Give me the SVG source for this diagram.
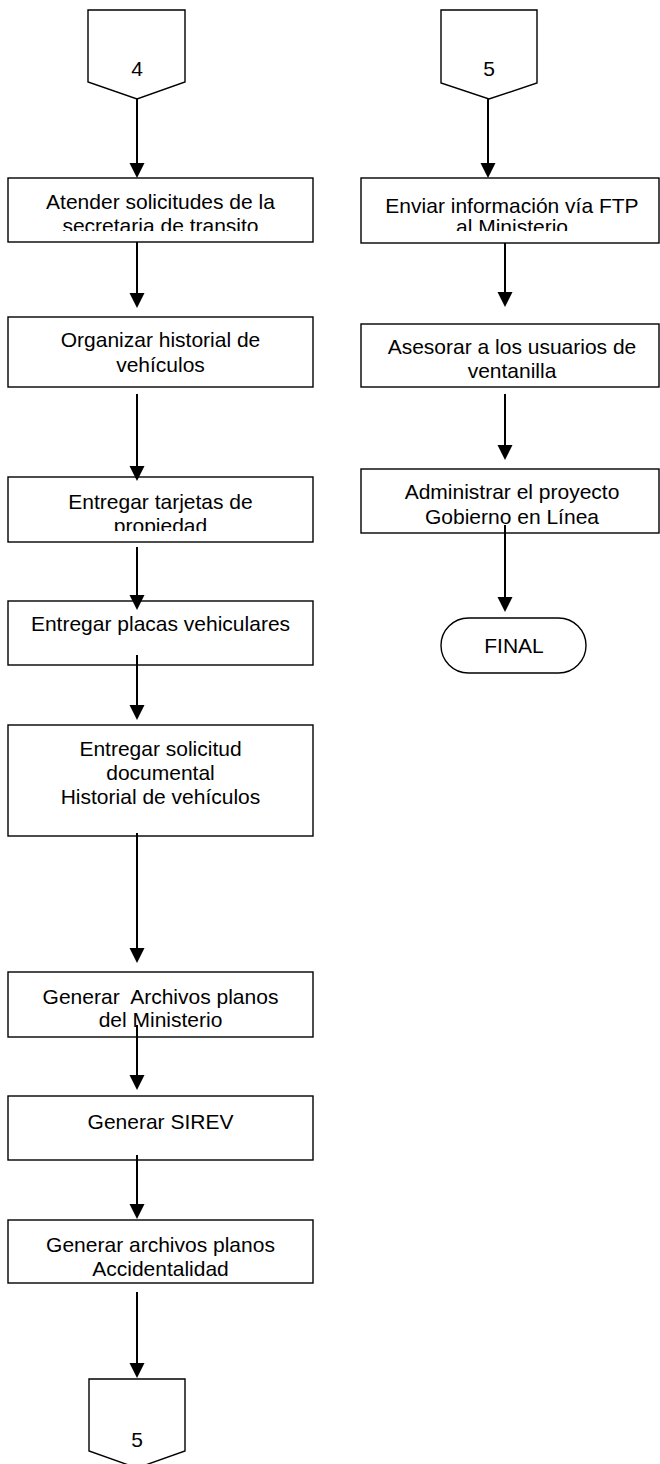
<svg xmlns="http://www.w3.org/2000/svg" width="660" height="1464" viewBox="0 0 660 1464">
<style>
.box{fill:#fff;stroke:#000;stroke-width:1.4}
.t{font-family:"Liberation Sans",Arial,sans-serif;font-size:21px;fill:#000;text-anchor:middle}
.c{stroke:#000;stroke-width:2;fill:none}
</style>
<defs>
<marker id="ah" markerUnits="userSpaceOnUse" markerWidth="16" markerHeight="16" refX="12" refY="7.5" orient="auto">
<path d="M0,0 L15,7.5 L0,15 z" fill="#000"/>
</marker>
<clipPath id="cl1"><rect x="8" y="178" width="305" height="53"/></clipPath>
<clipPath id="cl3"><rect x="8" y="477" width="305" height="54"/></clipPath>
<clipPath id="clr1"><rect x="361" y="178" width="298" height="53"/></clipPath>
</defs>
<rect width="660" height="1464" fill="#fff"/>
<g id="nodes">
<g id="conn4"><polygon class="box" points="88,10 185,10 185,82 137,99 88,82"/><text class="t" x="137" y="76">4</text></g>
<g id="n1"><rect class="box" x="8" y="178" width="305" height="64"/><g clip-path="url(#cl1)"><text class="t" x="160.5" y="209">Atender solicitudes de la</text><text class="t" x="160.5" y="233">secretaria de transito</text></g></g>
<g id="n2"><rect class="box" x="8" y="317" width="305" height="70"/><text class="t" x="160.5" y="347">Organizar historial de</text><text class="t" x="160.5" y="372">vehículos</text></g>
<g id="n3"><rect class="box" x="8" y="477" width="305" height="65"/><g clip-path="url(#cl3)"><text class="t" x="160.5" y="509">Entregar tarjetas de</text><text class="t" x="160.5" y="533">propiedad</text></g></g>
<g id="n4"><rect class="box" x="8" y="601" width="305" height="64"/><text class="t" x="160.5" y="631">Entregar placas vehiculares</text></g>
<g id="n5"><rect class="box" x="8" y="725" width="305" height="111"/><text class="t" x="160.5" y="756">Entregar solicitud</text><text class="t" x="160.5" y="780">documental</text><text class="t" x="160.5" y="804">Historial de vehículos</text></g>
<g id="n6"><rect class="box" x="8" y="972" width="305" height="65"/><text class="t" x="160.5" y="1004" xml:space="preserve">Generar  Archivos planos</text><text class="t" x="160.5" y="1027">del Ministerio</text></g>
<g id="n7"><rect class="box" x="8" y="1096" width="305" height="64"/><text class="t" x="160.5" y="1129">Generar SIREV</text></g>
<g id="n8"><rect class="box" x="8" y="1220" width="305" height="63"/><text class="t" x="160.5" y="1252">Generar archivos planos</text><text class="t" x="160.5" y="1276">Accidentalidad</text></g>
<g id="conn5b"><polygon class="box" points="89,1379 185,1379 185,1451 137,1468 89,1451"/><text class="t" x="137" y="1447">5</text></g>
<g id="conn5"><polygon class="box" points="441,10 537,10 537,83 489,99 441,83"/><text class="t" x="489" y="76">5</text></g>
<g id="r1"><rect class="box" x="361" y="178" width="298" height="65"/><g clip-path="url(#clr1)"><text class="t" x="512" y="213">Enviar información vía FTP</text><text class="t" x="512" y="234">al Ministerio</text></g></g>
<g id="r2"><rect class="box" x="361" y="324" width="298" height="63"/><text class="t" x="512" y="354">Asesorar a los usuarios de</text><text class="t" x="512" y="378">ventanilla</text></g>
<g id="r3"><rect class="box" x="361" y="469" width="298" height="64"/><text class="t" x="512" y="499">Administrar el proyecto</text><text class="t" x="512" y="524">Gobierno en Línea</text></g>
<g id="final"><rect class="box" x="441" y="618" width="145" height="55" rx="27.5"/><text class="t" x="514" y="653">FINAL</text></g>
</g>
<g id="connectors">
<line class="c" x1="137" y1="99" x2="137" y2="175" marker-end="url(#ah)"/>
<line class="c" x1="137" y1="242" x2="137" y2="305" marker-end="url(#ah)"/>
<line class="c" x1="137" y1="394" x2="137" y2="478" marker-end="url(#ah)"/>
<line class="c" x1="137" y1="547" x2="137" y2="607" marker-end="url(#ah)"/>
<line class="c" x1="137" y1="655" x2="137" y2="717" marker-end="url(#ah)"/>
<line class="c" x1="137" y1="833" x2="137" y2="960" marker-end="url(#ah)"/>
<line class="c" x1="137" y1="1025" x2="137" y2="1087" marker-end="url(#ah)"/>
<line class="c" x1="137" y1="1155" x2="137" y2="1216" marker-end="url(#ah)"/>
<line class="c" x1="137" y1="1292" x2="137" y2="1375" marker-end="url(#ah)"/>
<line class="c" x1="488" y1="99" x2="488" y2="175" marker-end="url(#ah)"/>
<line class="c" x1="505" y1="243" x2="505" y2="304" marker-end="url(#ah)"/>
<line class="c" x1="505" y1="394" x2="505" y2="457" marker-end="url(#ah)"/>
<line class="c" x1="505" y1="525" x2="505" y2="609" marker-end="url(#ah)"/>
</g>
</svg>
